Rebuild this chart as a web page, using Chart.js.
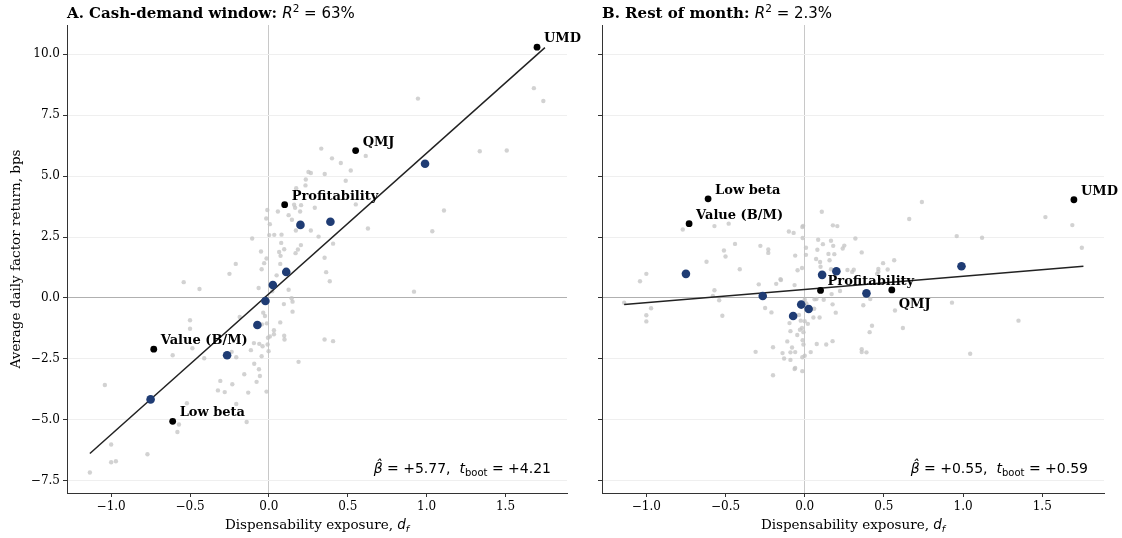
<!DOCTYPE html>
<html>
<head>
<meta charset="utf-8">
<script src="https://cdn.jsdelivr.net/npm/chart.js@4.4.1/dist/chart.umd.min.js"></script>
<style>
  html, body { margin: 0; padding: 0; background: #fff; }
  #wrap { position: relative; width: 1122px; height: 538px; }
  canvas { position: absolute; top: 0; }
  #left { left: 0; }
  #right { left: 585px; }
</style>
</head>
<body>
<div id="wrap">
  <canvas id="left" width="585" height="538"></canvas>
  <canvas id="right" width="537" height="538"></canvas>
</div>
<script>
// named factors (black dots), same exposure in both panels
const factorNames = ['UMD', 'QMJ', 'Profitability', 'Value (B/M)', 'Low beta'];
const factorX = [1.70, 0.55, 0.10, -0.73, -0.61];
const cashFactorY = [10.29, 6.05, 3.83, -2.10, -5.06];
const restFactorY = [4.03, 0.33, 0.31, 3.05, 4.07];

// binned means (blue dots)
const binX = [0.99, 0.39, 0.20, 0.11, 0.025, -0.022, -0.073, -0.265, -0.75];
const cashBinY = [5.51, 3.13, 3.00, 1.07, 0.53, -0.12, -1.11, -2.35, -4.16];
const restBinY = [1.30, 0.19, 1.10, 0.95, -0.45, -0.27, -0.74, 0.08, 0.99];

// fitted lines (end points)
const cashFit = [[-1.135, -6.38], [1.75, 10.27]];
const restFit = [[-1.14, -0.27], [1.76, 1.30]];

// all other factors (grey dots)
const cashGrey = [
  [-1.135,-7.16],[-1.04,-3.57],[-1.0,-6.01],[-1.0,-6.74],[-0.97,-6.70],[-0.77,-6.41],[-0.58,-5.50],[-0.57,-5.19],
  [-0.52,-4.32],[-0.61,-2.35],[-0.485,-2.06],[-0.41,-2.47],[-0.50,-0.91],[-0.50,-1.26],[-0.54,0.65],[-0.44,0.37],
  [-0.25,0.99],[-0.21,1.40],[-0.106,2.44],[-0.05,1.91],[-0.03,1.43],[-0.015,1.62],[-0.046,1.18],[-0.065,0.41],
  [-0.01,3.61],[-0.017,3.26],[0.006,3.03],[0.002,2.58],[0.034,2.59],[0.057,3.55],[0.078,2.26],[0.08,2.60],
  [0.097,2.0],[0.065,1.89],[0.074,1.73],[0.049,0.93],[0.021,0.28],[0.072,1.40],[0.125,3.40],[0.146,3.21],
  [0.16,3.83],[0.166,3.70],[0.204,3.81],[0.198,3.55],[0.173,4.50],[0.232,4.62],[0.234,4.86],[0.251,5.17],
  [0.266,5.13],[0.354,5.09],[0.332,6.13],[0.40,5.73],[0.456,5.54],[0.519,5.23],[0.487,4.81],[0.614,5.83],
  [0.551,3.84],[0.291,3.70],[0.266,2.77],[0.171,2.77],[0.315,2.52],[0.184,1.99],[0.169,1.84],[0.203,2.17],
  [0.407,2.23],[0.353,1.65],[0.363,1.06],[0.386,0.69],[0.125,0.34],[0.144,-0.01],[0.628,2.85],[1.036,2.74],
  [1.11,3.59],[1.337,6.02],[1.508,6.05],[0.945,8.18],[1.68,8.61],[1.74,8.08],[0.92,0.26],[0.353,-1.70],
  [0.407,-1.77],[0.188,-2.62],[0.095,-0.25],[0.15,-0.15],[0.15,-0.56],[0.072,-1.0],[0.032,-1.32],[0.032,-1.49],
  [0.097,-1.55],[0.099,-1.70],[-0.006,-1.63],[0.006,-1.58],[-0.008,-1.91],[-0.002,-2.18],[-0.061,-1.88],[-0.095,-1.85],
  [-0.04,-1.98],[-0.114,-2.14],[-0.046,-2.39],[-0.093,-2.70],[-0.063,-2.92],[-0.057,-3.20],[-0.078,-3.44],[-0.156,-3.13],
  [-0.308,-3.40],[-0.232,-3.54],[-0.323,-3.79],[-0.28,-3.86],[-0.131,-3.88],[-0.015,-3.84],[-0.207,-4.35],[-0.141,-5.09],
  [-0.185,-0.78],[-0.036,-0.60],[-0.025,-0.74],[-0.013,-1.04],[-0.044,-1.08],[-0.236,-2.21],[-0.207,-2.43]
];
const restGrey = [
  [-1.14,-0.19],[-1.0,0.99],[-1.04,0.69],[-0.97,-0.42],[-1.0,-0.71],[-1.0,-0.96],[-0.77,2.81],[-0.57,2.95],
  [-0.48,3.05],[-0.62,1.49],[-0.57,0.32],[-0.58,0.08],[-0.54,-0.09],[-0.52,-0.73],[-0.51,1.95],[-0.50,1.70],
  [-0.44,2.22],[-0.41,1.18],[-0.28,2.14],[-0.23,1.99],[-0.23,1.85],[-0.29,0.56],[-0.25,-0.41],[-0.21,-0.59],
  [-0.18,0.58],[-0.15,0.74],[-0.10,2.73],[-0.07,2.67],[-0.015,2.91],[-0.01,2.96],[-0.013,2.46],[0.008,2.06],
  [0.008,1.77],[-0.06,1.74],[-0.045,1.14],[-0.017,1.23],[-0.064,0.53],[0,-0.07],[0.01,-0.22],[0.06,-0.44],
  [-0.036,-0.70],[-0.025,-0.93],[0,-0.95],[0.02,-1.06],[0.055,-0.80],[0.094,-0.80],[-0.017,-1.23],[-0.03,-1.30],
  [-0.008,-1.40],[-0.047,-1.52],[-0.013,-1.73],[-0.008,-1.91],[-0.11,-1.78],[-0.08,-2.03],[-0.09,-2.23],[-0.06,-2.22],
  [-0.14,-2.26],[-0.13,-2.48],[-0.09,-2.54],[-0.015,-2.43],[0,-2.37],[0.038,-2.22],[0.076,-1.89],[-0.31,-2.21],
  [-0.20,-2.02],[-0.06,-2.87],[-0.064,-2.91],[-0.015,-3.0],[-0.20,-3.17],[0.108,3.54],[0.085,2.39],[0.08,1.98],
  [0.115,2.21],[0.166,2.35],[0.18,2.14],[0.178,2.98],[0.206,2.95],[0.15,1.81],[0.157,1.55],[0.10,1.28],
  [0.166,1.18],[0.24,2.03],[0.25,2.15],[0.27,1.15],[0.30,1.07],[0.17,0.16],[0.176,-0.26],[0.196,-0.60],
  [0.12,-0.07],[0.176,-1.77],[0.136,-1.91],[0.74,3.94],[0.66,3.24],[0.96,2.54],[1.12,2.47],[1.52,3.32],
  [1.69,2.99],[1.75,2.06],[0.32,2.44],[0.36,1.87],[0.565,1.55],[0.495,1.43],[0.465,1.19],[0.524,1.17],
  [0.465,1.08],[0.414,-0.04],[0.37,-0.30],[0.57,-0.51],[0.425,-1.14],[0.41,-1.40],[0.62,-1.23],[0.36,-2.10],
  [0.36,-2.22],[0.39,-2.23],[0.93,-0.19],[1.35,-0.93],[1.045,-2.29],[0.187,1.80],[0.072,1.60],[0.097,1.48],
  [0.31,1.16],[0.457,0.99],[-0.153,0.77],[0.223,0.29],[0.074,-0.04],[0.062,-0.05],[-0.096,-1.03],[-0.09,-1.36]
];

const xTickValues = [-1.0, -0.5, 0.0, 0.5, 1.0, 1.5];
const yTickValues = [-7.5, -5.0, -2.5, 0.0, 2.5, 5.0, 7.5, 10.0];

const panelTitles = ['A. Cash-demand window: ', 'B. Rest of month: '];
const panelR2 = ['63%', '2.3%'];
const betaHat = ['+5.77', '+0.55'];
const tBoot = ['+4.21', '+0.59'];

const SERIF = '"DejaVu Serif", serif';
const SANS = '"DejaVu Sans", sans-serif';

const fmt = (v) => (v < 0 ? '\u2212' : '') + Math.abs(v).toFixed(1);
const toPts = (pairs) => pairs.map(([x, y]) => ({ x, y }));
const zip = (xs, ys) => xs.map((x, i) => ({ x, y: ys[i] }));

// draw a row of text pieces in different fonts
function drawRuns(ctx, runs, x, y, align) {
  let total = 0;
  runs.forEach((r) => { ctx.font = r.font; r.w = ctx.measureText(r.text).width; total += r.w; });
  let cx = align === 'right' ? x - total : align === 'center' ? x - total / 2 : x;
  runs.forEach((r) => {
    ctx.font = r.font;
    ctx.fillText(r.text, cx, y + (r.dy || 0));
    cx += r.w;
  });
}

const decorPlugin = {
  id: 'decor',
  afterDraw(chart, args, opts) {
    const { ctx, chartArea: a, scales: { x, y } } = chart;
    const p = opts.panel;
    ctx.save();
    ctx.fillStyle = '#000';
    ctx.textBaseline = 'alphabetic';

    // factor labels
    ctx.font = 'bold 13px ' + SERIF;
    factorNames.forEach((name, i) => {
      const fy = p === 0 ? cashFactorY[i] : restFactorY[i];
      const dy = opts.below.includes(i) ? 18 : -5;
      ctx.fillText(name, x.getPixelForValue(factorX[i]) + 7, y.getPixelForValue(fy) + dy);
    });

    // panel title
    drawRuns(ctx, [
      { text: panelTitles[p], font: 'bold 15px ' + SERIF },
      { text: 'R', font: 'italic 15px ' + SANS },
      { text: '2', font: '10.5px ' + SANS, dy: -6 },
      { text: ' = ' + panelR2[p], font: '15px ' + SANS }
    ], a.left, 18, 'left');

    // stats
    drawRuns(ctx, [
      { text: '\u03B2\u0302', font: 'italic 14px ' + SANS },
      { text: ' = ' + betaHat[p] + ',  ', font: '14px ' + SANS },
      { text: 't', font: 'italic 14px ' + SANS },
      { text: 'boot', font: '10px ' + SANS, dy: 3 },
      { text: ' = ' + tBoot[p], font: '14px ' + SANS }
    ], a.right - 16, a.bottom - 20, 'right');

    // x axis title
    drawRuns(ctx, [
      { text: 'Dispensability exposure, ', font: '13.5px ' + SERIF },
      { text: 'd', font: 'italic 13.5px ' + SANS },
      { text: 'f', font: 'italic 9.5px ' + SANS, dy: 3 }
    ], (a.left + a.right) / 2, 529, 'center');

    // y axis title
    if (opts.yTitle) {
      ctx.translate(16, (a.top + a.bottom) / 2);
      ctx.rotate(-Math.PI / 2);
      ctx.font = '13.5px ' + SERIF;
      ctx.textAlign = 'center';
      ctx.textBaseline = 'middle';
      ctx.fillText('Average daily factor return, bps', 0, 0);
    }
    ctx.restore();
  }
};

function makeChart(id, panel, grey, factorY, binY, fit, yAxisWidth, showYLabels, below) {
  return new Chart(document.getElementById(id), {
    type: 'scatter',
    data: {
      datasets: [
        {
          data: zip(factorX, factorY),
          backgroundColor: '#000',
          borderColor: '#000',
          pointRadius: 3.4,
          borderWidth: 0,
          order: 1
        },
        {
          data: zip(binX, binY),
          backgroundColor: '#1f3c74',
          borderColor: '#1f3c74',
          pointRadius: 4.3,
          borderWidth: 0,
          order: 2
        },
        {
          data: toPts(fit),
          showLine: true,
          borderColor: '#222',
          borderWidth: 1.5,
          pointRadius: 0,
          order: 3
        },
        {
          data: toPts(grey),
          backgroundColor: 'rgba(195,195,195,0.75)',
          borderWidth: 0,
          pointRadius: 2.2,
          order: 4
        }
      ]
    },
    options: {
      responsive: false,
      animation: false,
      devicePixelRatio: 1,
      layout: { padding: { top: 25, right: 18, bottom: 0, left: 0 } },
      plugins: {
        legend: { display: false },
        tooltip: { enabled: false },
        decor: { panel, yTitle: showYLabels, below }
      },
      scales: {
        x: {
          type: 'linear',
          min: -1.28,
          max: 1.89,
          afterBuildTicks: (s) => { s.ticks = xTickValues.map((v) => ({ value: v })); },
          afterFit: (s) => { s.height = 45; },
          ticks: {
            callback: fmt,
            color: '#000',
            font: { family: SERIF, size: 12 },
            padding: 3,
            maxRotation: 0
          },
          grid: {
            color: (c) => (c.tick && c.tick.value === 0 ? '#c8c8c8' : 'rgba(0,0,0,0)'),
            lineWidth: 1,
            drawTicks: true,
            tickLength: 4,
            tickColor: '#333'
          },
          border: { color: '#333', width: 1 }
        },
        y: {
          type: 'linear',
          min: -8.0,
          max: 11.2,
          afterBuildTicks: (s) => { s.ticks = yTickValues.map((v) => ({ value: v })); },
          afterFit: (s) => { s.width = yAxisWidth; },
          ticks: {
            callback: fmt,
            color: showYLabels ? '#000' : 'rgba(0,0,0,0)',
            font: { family: SERIF, size: 12 },
            padding: 3
          },
          grid: {
            color: (c) => (c.tick && c.tick.value === 0 ? '#b0b0b0' : '#efefef'),
            lineWidth: 1,
            drawTicks: true,
            tickLength: 4,
            tickColor: '#333'
          },
          border: { color: '#333', width: 1 }
        }
      }
    },
    plugins: [decorPlugin]
  });
}

makeChart('left', 0, cashGrey, cashFactorY, cashBinY, cashFit, 67, true, []);
makeChart('right', 1, restGrey, restFactorY, restBinY, restFit, 17, false, [1]);
</script>
</body>
</html>
